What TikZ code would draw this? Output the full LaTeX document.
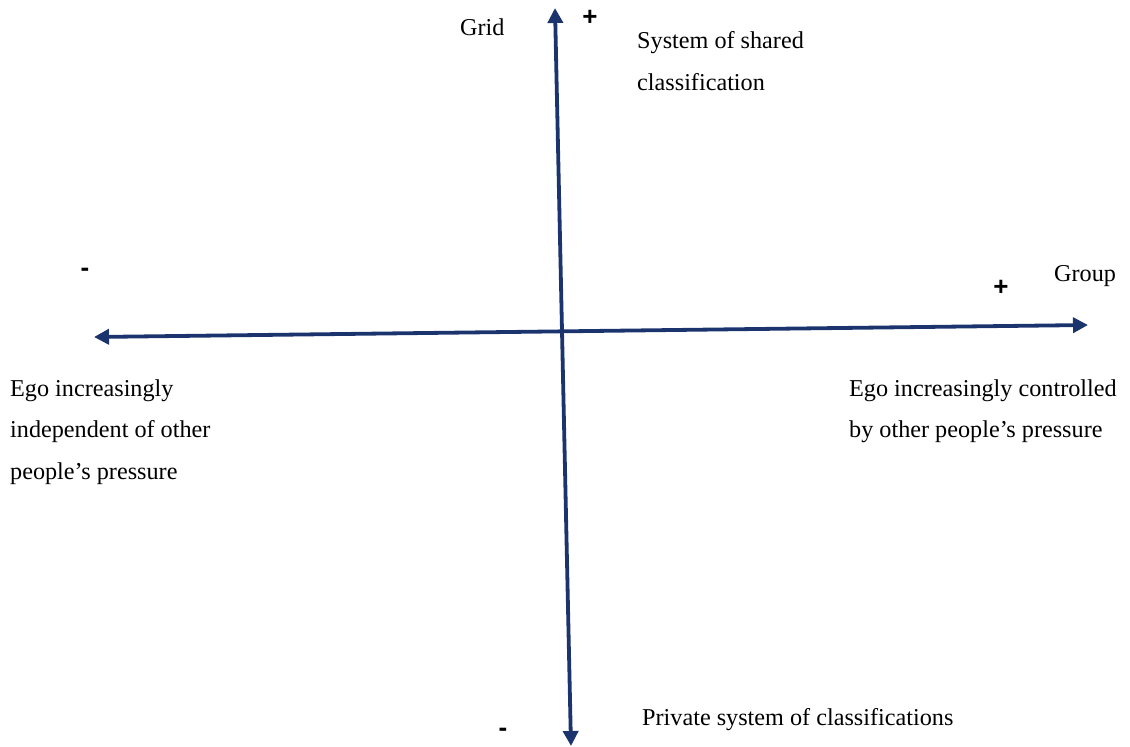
\documentclass[tikz,border=0pt]{standalone}
\usepackage{fontspec}
\setmainfont{Liberation Serif}
\newfontfamily\signfont{Liberation Sans}
\usetikzlibrary{arrows.meta}
\definecolor{axisblue}{RGB}{28,52,110}
\begin{document}
\begin{tikzpicture}[x=1pt,y=-1pt,
  axisline/.style={draw=axisblue,line width=3.8pt,{Triangle[length=15pt,width=15pt]}-{Triangle[length=15pt,width=15pt]}},
  lbl/.style={inner sep=0pt,anchor=west,align=left,font=\fontsize{24.2}{41.5}\selectfont},
  sign/.style={inner sep=0pt,font=\signfont\bfseries\fontsize{26}{28}\selectfont}]
\useasboundingbox (0,0) rectangle (1130,747);
\coordinate (top) at (555,8);
\coordinate (bottom) at (571,746);
\coordinate (left) at (94,337);
\coordinate (right) at (1088,325);
\draw[axisline] (bottom) -- (top);
\draw[axisline] (left) -- (right);
\node[lbl] (grid) at (460,27) {Grid};
\node[sign] (topplus) at (590,18) {+};
\node[lbl] (shared) at (637,61) {System of shared\\classification};
\node[sign] (leftminus) at (85,272) {-};
\node[sign] (rightplus) at (1001,288) {+};
\node[lbl] (group) at (1054,276) {Group};
\node[lbl] (indep) at (10,432) {Ego increasingly\\independent of other\\people’s pressure};
\node[lbl] (controlled) at (849,411) {Ego increasingly controlled\\by other people’s pressure};
\node[sign] (bottomminus) at (503,732) {-};
\node[lbl] (private) at (642,720) {Private system of classifications};
\end{tikzpicture}
\end{document}
